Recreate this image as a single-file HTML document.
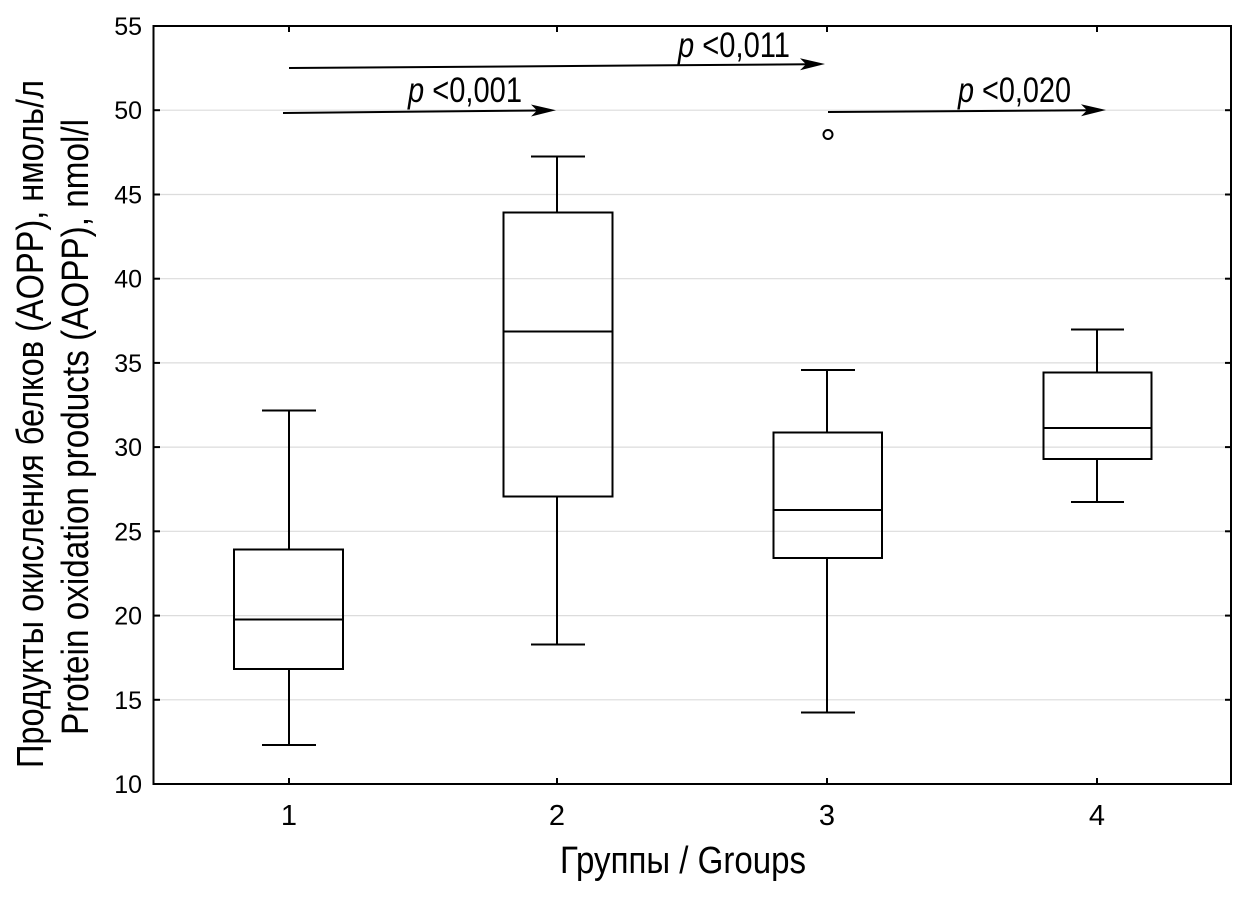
<!DOCTYPE html>
<html><head><meta charset="utf-8"><style>
html,body{margin:0;padding:0;background:#fff;}
svg{display:block;}
text{font-family:"Liberation Sans","Noto Sans CJK SC",sans-serif;fill:#000;}
</style></head><body>
<svg width="1241" height="904" viewBox="0 0 1241 904" xmlns="http://www.w3.org/2000/svg">
<rect x="0" y="0" width="1241" height="904" fill="#fff"/>
<!-- gridlines -->
<g stroke="#dcdcdc" stroke-width="1.2">
<line x1="154" y1="699.8" x2="1230" y2="699.8"/>
<line x1="154" y1="615.6" x2="1230" y2="615.6"/>
<line x1="154" y1="531.3" x2="1230" y2="531.3"/>
<line x1="154" y1="447.1" x2="1230" y2="447.1"/>
<line x1="154" y1="362.9" x2="1230" y2="362.9"/>
<line x1="154" y1="278.7" x2="1230" y2="278.7"/>
<line x1="154" y1="194.5" x2="1230" y2="194.5"/>
<line x1="154" y1="110.2" x2="1230" y2="110.2"/>
</g>
<!-- frame -->
<rect x="153.5" y="26" width="1077.5" height="758" fill="none" stroke="#000" stroke-width="2"/>
<!-- ticks -->
<g stroke="#000" stroke-width="2">
<line x1="289" y1="784" x2="289" y2="778"/><line x1="557" y1="784" x2="557" y2="778"/><line x1="827" y1="784" x2="827" y2="778"/><line x1="1097" y1="784" x2="1097" y2="778"/>
<line x1="289" y1="26" x2="289" y2="32"/><line x1="557" y1="26" x2="557" y2="32"/><line x1="827" y1="26" x2="827" y2="32"/><line x1="1097" y1="26" x2="1097" y2="32"/>
<line x1="153" y1="699.8" x2="160" y2="699.8"/><line x1="153" y1="615.6" x2="160" y2="615.6"/><line x1="153" y1="531.3" x2="160" y2="531.3"/><line x1="153" y1="447.1" x2="160" y2="447.1"/><line x1="153" y1="362.9" x2="160" y2="362.9"/><line x1="153" y1="278.7" x2="160" y2="278.7"/><line x1="153" y1="194.5" x2="160" y2="194.5"/><line x1="153" y1="110.2" x2="160" y2="110.2"/>
<line x1="1231" y1="699.8" x2="1225" y2="699.8"/><line x1="1231" y1="615.6" x2="1225" y2="615.6"/><line x1="1231" y1="531.3" x2="1225" y2="531.3"/><line x1="1231" y1="447.1" x2="1225" y2="447.1"/><line x1="1231" y1="362.9" x2="1225" y2="362.9"/><line x1="1231" y1="278.7" x2="1225" y2="278.7"/><line x1="1231" y1="194.5" x2="1225" y2="194.5"/><line x1="1231" y1="110.2" x2="1225" y2="110.2"/>
</g>
<!-- y tick labels -->
<g font-size="25" text-anchor="end">
<text x="142" y="793">10</text>
<text x="142" y="709">15</text>
<text x="142" y="624.6">20</text>
<text x="142" y="540.3">25</text>
<text x="142" y="456.1">30</text>
<text x="142" y="371.9">35</text>
<text x="142" y="287.7">40</text>
<text x="142" y="203.5">45</text>
<text x="142" y="119.2">50</text>
<text x="142" y="35">55</text>
</g>
<!-- x tick labels -->
<g font-size="29" text-anchor="middle">
<text x="289" y="825">1</text>
<text x="557" y="825">2</text>
<text x="827" y="825">3</text>
<text x="1097" y="825">4</text>
</g>
<!-- boxes -->
<g stroke="#000" stroke-width="2" fill="none">
<!-- box 1 -->
<line x1="262" y1="410.5" x2="316" y2="410.5"/><line x1="289" y1="410.5" x2="289" y2="549.5"/>
<rect x="234" y="549.5" width="109" height="119.5"/>
<line x1="234" y1="619.5" x2="343" y2="619.5"/>
<line x1="289" y1="669" x2="289" y2="745"/><line x1="262" y1="745" x2="316" y2="745"/>
<!-- box 2 -->
<line x1="531" y1="156.5" x2="585" y2="156.5"/><line x1="557" y1="156.5" x2="557" y2="212.5"/>
<rect x="503.5" y="212.5" width="109" height="284"/>
<line x1="503.5" y1="331.5" x2="612.5" y2="331.5"/>
<line x1="557" y1="496.5" x2="557" y2="644.5"/><line x1="531" y1="644.5" x2="585" y2="644.5"/>
<!-- box 3 -->
<line x1="801" y1="370" x2="855" y2="370"/><line x1="827" y1="370" x2="827" y2="432.5"/>
<rect x="773.5" y="432.5" width="108.5" height="125.5"/>
<line x1="773.5" y1="510" x2="882" y2="510"/>
<line x1="827" y1="558" x2="827" y2="712.5"/><line x1="801" y1="712.5" x2="855" y2="712.5"/>
<circle cx="828" cy="134.5" r="4.5"/>
<!-- box 4 -->
<line x1="1071" y1="329.5" x2="1124" y2="329.5"/><line x1="1097" y1="329.5" x2="1097" y2="372.5"/>
<rect x="1043.5" y="372.5" width="108" height="86.5"/>
<line x1="1043.5" y1="428" x2="1151.5" y2="428"/>
<line x1="1097" y1="459" x2="1097" y2="502"/><line x1="1071" y1="502" x2="1124" y2="502"/>
</g>
<!-- arrows -->
<g stroke="#000" stroke-width="2">
<line x1="283" y1="113" x2="540" y2="110.5"/>
<line x1="289" y1="68" x2="810" y2="64.3"/>
<line x1="828" y1="112" x2="1090" y2="110.3"/>
</g>
<g fill="#000">
<polygon points="556,110.3 531,104.5 537,110.5 531,116.5"/>
<polygon points="825,64 800,58.2 806,64.2 800,70.2"/>
<polygon points="1106,110 1081,104.2 1087,110.2 1081,116.2"/>
</g>
<g font-size="35">
<text x="408" y="102" textLength="114" lengthAdjust="spacingAndGlyphs"><tspan font-style="italic">p</tspan> &lt;0,001</text>
<text x="678" y="57" textLength="112" lengthAdjust="spacingAndGlyphs"><tspan font-style="italic">p</tspan> &lt;0,011</text>
<text x="958" y="102" textLength="113" lengthAdjust="spacingAndGlyphs"><tspan font-style="italic">p</tspan> &lt;0,020</text>
</g>
<!-- axis titles -->
<text x="683" y="873" font-size="38" text-anchor="middle" textLength="246" lengthAdjust="spacingAndGlyphs">Группы / Groups</text>
<text x="43" y="424" font-size="38" text-anchor="middle" textLength="688" lengthAdjust="spacingAndGlyphs" transform="rotate(-90 43 424)">Продукты окисления белков (AOPP), нмоль/л</text>
<text x="88" y="427" font-size="38" text-anchor="middle" textLength="616" lengthAdjust="spacingAndGlyphs" transform="rotate(-90 88 427)">Protein oxidation products (AOPP), nmol/l</text>
</svg>
</body></html>
